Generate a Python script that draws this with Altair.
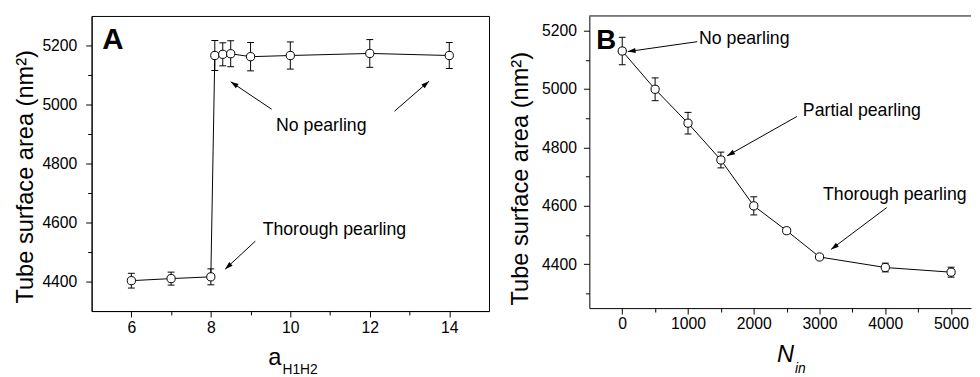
import math
import altair as alt
import pandas as pd

FONT = "Liberation Sans"

# ---------------- Panel A data ----------------
a_x = [6, 7, 8, 8.1, 8.3, 8.5, 9, 10, 12, 14]
a_y = [4403, 4410, 4416, 5166, 5170, 5172, 5162, 5166, 5173, 5166]
a_err = [25, 22, 27, 51, 39, 44, 48, 46, 47, 44]

a_note_text = ["No pearling", "Thorough pearling"]
a_note_x = [10.78, 11.11]
a_note_y = [4910, 4557]

a_arrow_x1 = [9.53, 12.62, 9.12]
a_arrow_y1 = [4984, 4977, 4537]
a_arrow_x2 = [8.50, 13.49, 8.36]
a_arrow_y2 = [5077, 5079, 4442]

# ---------------- Panel B data ----------------
b_x = [0, 500, 1000, 1500, 2000, 2500, 3000, 4000, 5000]
b_y = [5130, 4999, 4883, 4757, 4600, 4515, 4425, 4389, 4373]
b_err = [47, 39, 37, 27, 31, 10, 8, 15, 17]

b_note_text = ["No pearling", "Partial pearling", "Thorough pearling"]
b_note_x = [1856, 3643, 4144]
b_note_y = [5153, 4907, 4620]

b_arrow_x1 = [1141, 2656, 4021]
b_arrow_y1 = [5162, 4906, 4594]
b_arrow_x2 = [83, 1594, 3175]
b_arrow_y2 = [5128, 4771, 4451]

A_W, A_H = 404, 300
B_W, B_H = 388, 297
A_XDOM, A_YDOM = [5, 15], [4300, 5300]
B_XDOM, B_YDOM = [-500, 5303], [4250, 5250]


def panel(xs, ys, errs, xdom, ydom, W, H, xmaj, xmin, ymaj, ymin,
          ntext, nx, ny, ax1, ay1, ax2, ay2, letter, lx, ly, lsize,
          label_pad_y, label_pad_x, title_x, title_y, xt_main, xt_sub,
          xt_italic, xt_pos, framed):
    df = pd.DataFrame({"x": xs, "y": ys, "lo": [v - e for v, e in zip(ys, errs)],
                       "hi": [v + e for v, e in zip(ys, errs)]})
    xs_ = alt.Scale(domain=xdom, nice=False, zero=False)
    ys_ = alt.Scale(domain=ydom, nice=False, zero=False)

    def X(field="x", axis=None):
        return alt.X(f"{field}:Q", scale=xs_, axis=axis)

    def Y(field="y", axis=None):
        return alt.Y(f"{field}:Q", scale=ys_, axis=axis)

    major_x = alt.Axis(values=xmaj, orient="bottom", title=None, format="d",
                       tickSize=6, labelFontSize=16, labelPadding=label_pad_x,
                       grid=False)
    major_y = alt.Axis(values=ymaj, orient="left", title="Tube surface area (nm²)",
                       format="d", tickSize=6, labelFontSize=16,
                       labelPadding=label_pad_y, grid=False, titleFontSize=24,
                       titleFontWeight="normal", titleX=title_x, titleY=title_y,
                       titleBaseline="alphabetic", titleAngle=270,
                       titleAlign="center")
    minor_x = alt.Axis(values=xmin, orient="bottom", title=None, labels=False,
                       tickSize=4, domain=False, grid=False)
    minor_y = alt.Axis(values=ymin, orient="left", title=None, labels=False,
                       tickSize=4, domain=False, grid=False)

    line = alt.Chart(df).mark_line(color="black", strokeWidth=1).encode(
        x=X(axis=minor_x), y=Y(axis=minor_y))
    err = alt.Chart(df).mark_rule(color="black", strokeWidth=1).encode(
        x=X(), y=Y("lo"), y2="hi:Q")
    cap_lo = alt.Chart(df).mark_tick(orient="horizontal", size=7, thickness=1,
                                     color="black", opacity=1).encode(x=X(), y=Y("lo"))
    cap_hi = alt.Chart(df).mark_tick(orient="horizontal", size=7, thickness=1,
                                     color="black", opacity=1).encode(x=X(), y=Y("hi"))
    pts = alt.Chart(df).mark_point(shape="circle", filled=True, fill="white",
                                   stroke="black", strokeWidth=1, size=70,
                                   opacity=1).encode(x=X(axis=major_x), y=Y(axis=major_y))

    # arrows
    sx = W / (xdom[1] - xdom[0])
    sy = H / (ydom[1] - ydom[0])
    angles = []
    for x1, y1, x2, y2 in zip(ax1, ay1, ax2, ay2):
        dx = (x2 - x1) * sx
        dy = -(y2 - y1) * sy
        angles.append(math.degrees(math.atan2(dx, -dy)) % 360)
    adf = pd.DataFrame({"x": ax1, "y": ay1, "x2": ax2, "y2": ay2, "angle": angles})
    shaft = alt.Chart(adf).mark_rule(color="black", strokeWidth=1).encode(
        x=X(), y=Y(), x2="x2:Q", y2="y2:Q")
    head = alt.Chart(adf).mark_point(shape="M0,0L-0.32,1L0.32,1Z", filled=True,
                                     color="black", size=256, opacity=1).encode(
        x=X("x2"), y=Y("y2"), angle=alt.Angle("angle:Q", scale=None))

    ndf = pd.DataFrame({"x": nx, "y": ny, "t": ntext})
    notes = alt.Chart(ndf).mark_text(font=FONT, fontSize=18, align="center",
                                     baseline="alphabetic", color="black").encode(
        x=X(), y=Y(), text="t:N")
    ldf = pd.DataFrame({"x": [lx], "y": [ly], "t": [letter]})
    let = alt.Chart(ldf).mark_text(font=FONT, fontSize=lsize, fontWeight="bold",
                                   align="left", baseline="alphabetic",
                                   color="black").encode(x=X(), y=Y(), text="t:N")

    tdf = pd.DataFrame({"t": [xt_main], "s": [xt_sub]})
    (mx, my, sxp, syp) = xt_pos
    style = "italic" if xt_italic else "normal"
    xt1 = alt.Chart(tdf).mark_text(font=FONT, fontSize=24, fontStyle=style,
                                   align="right", baseline="alphabetic",
                                   color="black").encode(
        x=alt.value(mx), y=alt.value(my), text="t:N")
    xt2 = alt.Chart(tdf).mark_text(font=FONT, fontSize=14, fontStyle=style,
                                   align="left", baseline="alphabetic",
                                   color="black").encode(
        x=alt.value(sxp), y=alt.value(syp), text="s:N")

    layers = [line, err, cap_lo, cap_hi, pts, shaft, head, notes, let, xt1, xt2]
    if not framed:
        top = alt.Chart(tdf).mark_rule(color="black", strokeWidth=1).encode(
            x=alt.value(0), x2=alt.value(W), y=alt.value(0))
        layers.append(top)
    ch = alt.layer(*layers).resolve_axis(x="independent", y="independent").properties(
        width=W, height=H)
    if not framed:
        ch = ch.properties(view=alt.ViewBackground(stroke="transparent"))
    return ch


chart_a = panel(a_x, a_y, a_err, A_XDOM, A_YDOM, A_W, A_H,
                [6, 8, 10, 12, 14], [7, 9, 11, 13],
                [4400, 4600, 4800, 5000, 5200], [4500, 4700, 4900, 5100],
                a_note_text, a_note_x, a_note_y,
                a_arrow_x1, a_arrow_y1, a_arrow_x2, a_arrow_y2,
                "A", 5.27, 5187, 30, 9, 3, -60, 163,
                "a", "H1H2", False, (193, 355, 194, 364), True)

chart_b = panel(b_x, b_y, b_err, B_XDOM, B_YDOM, B_W, B_H,
                [0, 1000, 2000, 3000, 4000, 5000], [500, 1500, 2500, 3500, 4500],
                [4400, 4600, 4800, 5000, 5200], [4300, 4500, 4700, 4900, 5100],
                b_note_text, b_note_x, b_note_y,
                b_arrow_x1, b_arrow_y1, b_arrow_x2, b_arrow_y2,
                "B", -395, 5136, 28, 7, 2, -63, 165,
                "N", "in", True, (208, 352, 209, 363), False)

chart = alt.hconcat(chart_a, chart_b, spacing=18).properties(
    padding={"left": 5, "top": 4, "right": 0, "bottom": 0}
).configure_view(stroke="black", strokeWidth=1).configure_axis(
    domainColor="black", tickColor="black", labelColor="black", titleColor="black",
    labelFont=FONT, titleFont=FONT, domainWidth=1, tickWidth=1
)

chart.save("out.html", embed_options={"renderer": "svg", "actions": False})
